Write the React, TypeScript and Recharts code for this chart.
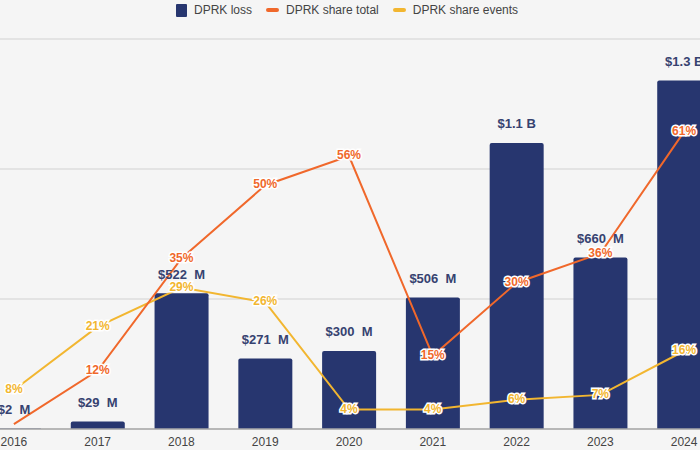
import React from "react";
import { ComposedChart, Bar, Line, XAxis, YAxis, CartesianGrid, LabelList } from "recharts";

const years = ["2016", "2017", "2018", "2019", "2020", "2021", "2022", "2023", "2024"];
const lossMillions = [2, 29, 522, 271, 300, 506, 1100, 660, 1340];
const lossLabels = ["$2  M", "$29  M", "$522  M", "$271  M", "$300  M", "$506  M", "$1.1 B", "$660  M", "$1.3 B"];
const shareTotal = [1, 12, 35, 50, 56, 15, 30, 36, 61];
const shareEvents = [8, 21, 29, 26, 4, 4, 6, 7, 16];
const hiddenTotalLabels = [0];

const data = years.map((y, i) => ({
  year: y,
  loss: lossMillions[i],
  lossLabel: lossLabels[i],
  total: shareTotal[i],
  events: shareEvents[i],
}));

const NAVY = "#27366f";
const ORANGE = "#f0682b";
const YELLOW = "#f2b630";
const FONT = "'Liberation Sans', Arial, Helvetica, sans-serif";

const BarLabel = (props: any) => {
  const { x, y, width, index } = props;
  return (
    <text
      x={x + width / 2}
      y={y - 18}
      textAnchor="middle"
      dominantBaseline="middle"
      fill="#364270"
      fontSize={13}
      fontWeight="bold"
      fontFamily={FONT}
      style={{ whiteSpace: "pre" }}
    >
      {lossLabels[index]}
    </text>
  );
};

const makePctLabel = (color: string, hidden: number[]) => (props: any) => {
  const { x, y, value, index } = props;
  if (hidden.includes(index)) return null;
  return (
    <text
      x={x}
      y={y}
      textAnchor="middle"
      dominantBaseline="middle"
      fill={color}
      stroke="#ffffff"
      strokeWidth={3}
      paintOrder="stroke"
      fontSize={12}
      fontWeight="bold"
      fontFamily={FONT}
    >
      {value + "%"}
    </text>
  );
};

const LegendItem = ({ color, label, square }: { color: string; label: string; square?: boolean }) => (
  <div style={{ display: "flex", alignItems: "center", marginRight: 14 }}>
    <div
      style={{
        width: square ? 11 : 13,
        height: square ? 13 : 4,
        background: color,
        borderRadius: square ? 1 : 2,
        marginRight: 7,
      }}
    />
    <span style={{ fontSize: 12, color: "#444", fontFamily: FONT }}>{label}</span>
  </div>
);

export default function App() {
  return (
    <div
      style={{
        position: "fixed",
        left: 0,
        top: 0,
        width: 700,
        height: 450,
        overflow: "hidden",
        background: "#f5f5f5",
      }}
    >
      <div
        style={{
          position: "absolute",
          top: 2,
          left: 176,
          height: 16,
          display: "flex",
          alignItems: "center",
        }}
      >
        <LegendItem color={NAVY} label="DPRK loss" square />
        <LegendItem color={ORANGE} label="DPRK share total" />
        <LegendItem color={YELLOW} label="DPRK share events" />
      </div>
      <div style={{ position: "absolute", left: -28, top: 0 }}>
        <ComposedChart
          width={754}
          height={450}
          data={data}
          margin={{ top: 39, right: 0, bottom: 0, left: 0 }}
        >
          <CartesianGrid yAxisId="left" vertical={false} stroke="#dcdcdc" strokeWidth={1.5} />
          <XAxis
            dataKey="year"
            height={21}
            tickLine={false}
            axisLine={{ stroke: "#a8a8a8", strokeWidth: 1.5 }}
            tick={{ fontSize: 12, fill: "#444", fontFamily: FONT }}
            tickMargin={2}
            interval={0}
          />
          <YAxis yAxisId="left" hide domain={[0, 1500]} ticks={[0, 500, 1000, 1500]} />
          <YAxis yAxisId="right" orientation="right" hide domain={[0, 80]} />
          <Bar yAxisId="left" dataKey="loss" fill={NAVY} barSize={54} radius={[2, 2, 0, 0]} isAnimationActive={false}>
            <LabelList dataKey="loss" content={BarLabel} />
          </Bar>
          <Line
            yAxisId="right"
            dataKey="events"
            stroke={YELLOW}
            strokeWidth={2}
            dot={false}
            activeDot={false}
            type="linear"
            isAnimationActive={false}
          >
            <LabelList dataKey="events" content={makePctLabel(YELLOW, [])} />
          </Line>
          <Line
            yAxisId="right"
            dataKey="total"
            stroke={ORANGE}
            strokeWidth={2}
            dot={false}
            activeDot={false}
            type="linear"
            isAnimationActive={false}
          >
            <LabelList dataKey="total" content={makePctLabel(ORANGE, hiddenTotalLabels)} />
          </Line>
        </ComposedChart>
      </div>
    </div>
  );
}
